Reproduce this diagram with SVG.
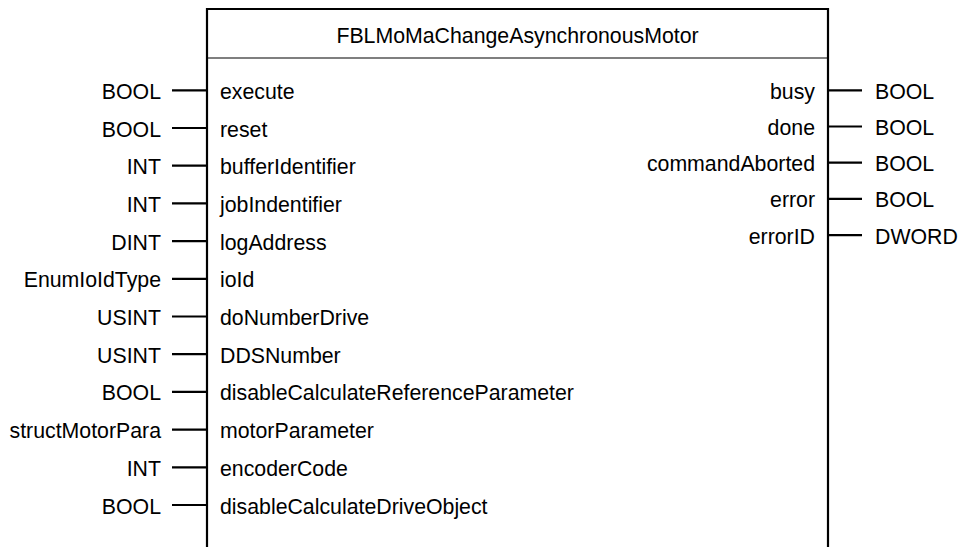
<svg xmlns="http://www.w3.org/2000/svg" width="960" height="547" viewBox="0 0 960 547">
  <style>
    text { font-family: "Liberation Sans", Arial, sans-serif; font-size: 21.3px; fill: #000; }
    .end { text-anchor: end; }
    .mid { text-anchor: middle; }
    .frame { fill: #fff; stroke: #000; stroke-width: 2.2; }
    .sep { stroke: #000; stroke-width: 1.2; }
    .pin { stroke: #000; stroke-width: 2.2; }
  </style>

  <rect width="960" height="547" fill="#fff"/>

  <!-- function block body (open at the bottom, continues past the page) -->
  <g id="block">
    <path class="frame" d="M207,560 V9 H828 V560"/>
    <line class="sep" x1="207" y1="58" x2="828" y2="58"/>
    <text class="mid" x="517.5" y="43">FBLMoMaChangeAsynchronousMotor</text>
  </g>

  <!-- pin stubs -->
  <g id="connectors">
    <line class="pin" x1="172" y1="90.3" x2="207" y2="90.3"/>
    <line class="pin" x1="172" y1="128" x2="207" y2="128"/>
    <line class="pin" x1="172" y1="165.7" x2="207" y2="165.7"/>
    <line class="pin" x1="172" y1="203.4" x2="207" y2="203.4"/>
    <line class="pin" x1="172" y1="241.1" x2="207" y2="241.1"/>
    <line class="pin" x1="172" y1="278.8" x2="207" y2="278.8"/>
    <line class="pin" x1="172" y1="316.5" x2="207" y2="316.5"/>
    <line class="pin" x1="172" y1="354.2" x2="207" y2="354.2"/>
    <line class="pin" x1="172" y1="391.9" x2="207" y2="391.9"/>
    <line class="pin" x1="172" y1="429.6" x2="207" y2="429.6"/>
    <line class="pin" x1="172" y1="467.3" x2="207" y2="467.3"/>
    <line class="pin" x1="172" y1="505" x2="207" y2="505"/>

    <line class="pin" x1="828" y1="90.3" x2="862" y2="90.3"/>
    <line class="pin" x1="828" y1="126.5" x2="862" y2="126.5"/>
    <line class="pin" x1="828" y1="162.7" x2="862" y2="162.7"/>
    <line class="pin" x1="828" y1="198.9" x2="862" y2="198.9"/>
    <line class="pin" x1="828" y1="235.1" x2="862" y2="235.1"/>
  </g>

  <!-- inputs: data type outside, parameter name inside -->
  <g id="in-execute"><text class="end" x="161" y="98.8">BOOL</text><text x="220" y="98.8">execute</text></g>
  <g id="in-reset"><text class="end" x="161" y="136.5">BOOL</text><text x="220" y="136.5">reset</text></g>
  <g id="in-bufferIdentifier"><text class="end" x="161" y="174.2">INT</text><text x="220" y="174.2">bufferIdentifier</text></g>
  <g id="in-jobIndentifier"><text class="end" x="161" y="211.9">INT</text><text x="220" y="211.9">jobIndentifier</text></g>
  <g id="in-logAddress"><text class="end" x="161" y="249.6">DINT</text><text x="220" y="249.6">logAddress</text></g>
  <g id="in-ioId"><text class="end" x="161" y="287.3">EnumIoIdType</text><text x="220" y="287.3">ioId</text></g>
  <g id="in-doNumberDrive"><text class="end" x="161" y="325">USINT</text><text x="220" y="325">doNumberDrive</text></g>
  <g id="in-DDSNumber"><text class="end" x="161" y="362.7">USINT</text><text x="220" y="362.7">DDSNumber</text></g>
  <g id="in-disableCalculateReferenceParameter"><text class="end" x="161" y="400.4">BOOL</text><text x="220" y="400.4">disableCalculateReferenceParameter</text></g>
  <g id="in-motorParameter"><text class="end" x="161" y="438.1">structMotorPara</text><text x="220" y="438.1">motorParameter</text></g>
  <g id="in-encoderCode"><text class="end" x="161" y="475.8">INT</text><text x="220" y="475.8">encoderCode</text></g>
  <g id="in-disableCalculateDriveObject"><text class="end" x="161" y="513.5">BOOL</text><text x="220" y="513.5">disableCalculateDriveObject</text></g>

  <!-- outputs: parameter name inside, data type outside -->
  <g id="out-busy"><text class="end" x="815" y="98.8">busy</text><text x="875" y="98.8">BOOL</text></g>
  <g id="out-done"><text class="end" x="815" y="135">done</text><text x="875" y="135">BOOL</text></g>
  <g id="out-commandAborted"><text class="end" x="815" y="171.2">commandAborted</text><text x="875" y="171.2">BOOL</text></g>
  <g id="out-error"><text class="end" x="815" y="207.4">error</text><text x="875" y="207.4">BOOL</text></g>
  <g id="out-errorID"><text class="end" x="815" y="243.6">errorID</text><text x="875" y="243.6">DWORD</text></g>
</svg>
